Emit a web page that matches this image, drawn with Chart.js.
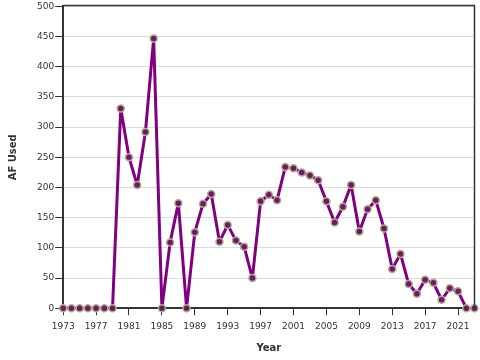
<!DOCTYPE html>
<html>
<head>
<meta charset="utf-8">
<script src="https://cdn.jsdelivr.net/npm/chart.js@4.4.1/dist/chart.umd.min.js"></script>
<style>
  html, body { margin: 0; padding: 0; background: #fff; overflow: hidden; }
  #wrap { width: 480px; height: 360px; }
</style>
</head>
<body>
<div id="wrap"><canvas id="myChart"></canvas></div>
<script>
const years = [];
for (let y = 1973; y <= 2023; y++) years.push(y);

const afUsed = [
    0, 0, 0, 0, 0, 0, 0,            // 1973-1979
    331, 250, 204, 292, 447,        // 1980-1984
    0, 109, 174, 0,                 // 1985-1988
    126, 173, 189, 110, 138, 112, 102, 50, // 1989-1996
    177, 188, 179, 234, 232, 225, 220, 212, // 1997-2004
    177, 142, 168, 204, 127, 164, 179, 132, // 2005-2012
    65, 90, 40, 24, 47, 42, 14, 33, 28,     // 2013-2021
    0, 0                            // 2022-2023
];

const yearTicks = [1973, 1977, 1981, 1985, 1989, 1993, 1997, 2001, 2005, 2009, 2013, 2017, 2021];

const font = 'DejaVu Sans';

// box around the plot area (top and right edges)
const frame = {
    id: 'frame',
    afterDraw(chart) {
        const a = chart.chartArea;
        const ctx = chart.ctx;
        ctx.save();
        ctx.strokeStyle = '#333';
        ctx.lineWidth = 1.5;
        ctx.beginPath();
        ctx.moveTo(a.left, a.top - 1);
        ctx.lineTo(a.right, a.top - 1);
        ctx.lineTo(a.right, a.bottom);
        ctx.stroke();
        ctx.restore();
    }
};

const ctx = document.getElementById('myChart').getContext('2d');
new Chart(ctx, {
    type: 'line',
    data: {
        datasets: [{
            label: 'AF Used',
            data: years.map((y, i) => ({ x: y, y: afUsed[i] })),
            borderColor: '#800080',
            borderWidth: 3,
            borderJoinStyle: 'round',
            pointRadius: 3.5,
            pointBorderWidth: 1.5,
            pointBackgroundColor: '#6b1a6b',
            pointBorderColor: '#b3ac8a',
            tension: 0,
            clip: false
        }]
    },
    plugins: [frame],
    options: {
        responsive: true,
        maintainAspectRatio: false,
        animation: false,
        layout: { padding: { top: 4, right: 4, bottom: 6, left: 7 } },
        plugins: {
            legend: { display: false },
            tooltip: { enabled: false }
        },
        scales: {
            x: {
                type: 'linear',
                min: 1973,
                max: 2023,
                afterBuildTicks: scale => {
                    scale.ticks = yearTicks.map(v => ({ value: v }));
                },
                ticks: {
                    autoSkip: false,
                    maxRotation: 0,
                    padding: 6,
                    color: '#333',
                    font: { family: font, size: 9 },
                    callback: v => String(v)
                },
                grid: { drawOnChartArea: false, tickLength: 7, tickColor: '#333' },
                border: { color: '#333', width: 2 },
                title: {
                    display: true,
                    text: 'Year',
                    color: '#333',
                    font: { family: font, size: 10, weight: 'bold' },
                    padding: { top: 4, bottom: 0 }
                }
            },
            y: {
                min: 0,
                max: 500,
                ticks: {
                    stepSize: 50,
                    padding: 1,
                    color: '#333',
                    font: { family: font, size: 9 }
                },
                grid: { color: '#dcdcdc', tickLength: 8, tickColor: '#333' },
                border: { color: '#333', width: 2 },
                title: {
                    display: true,
                    text: 'AF Used',
                    color: '#333',
                    font: { family: font, size: 10, weight: 'bold' },
                    padding: { top: 0, bottom: 17 }
                }
            }
        }
    }
});
</script>
</body>
</html>
